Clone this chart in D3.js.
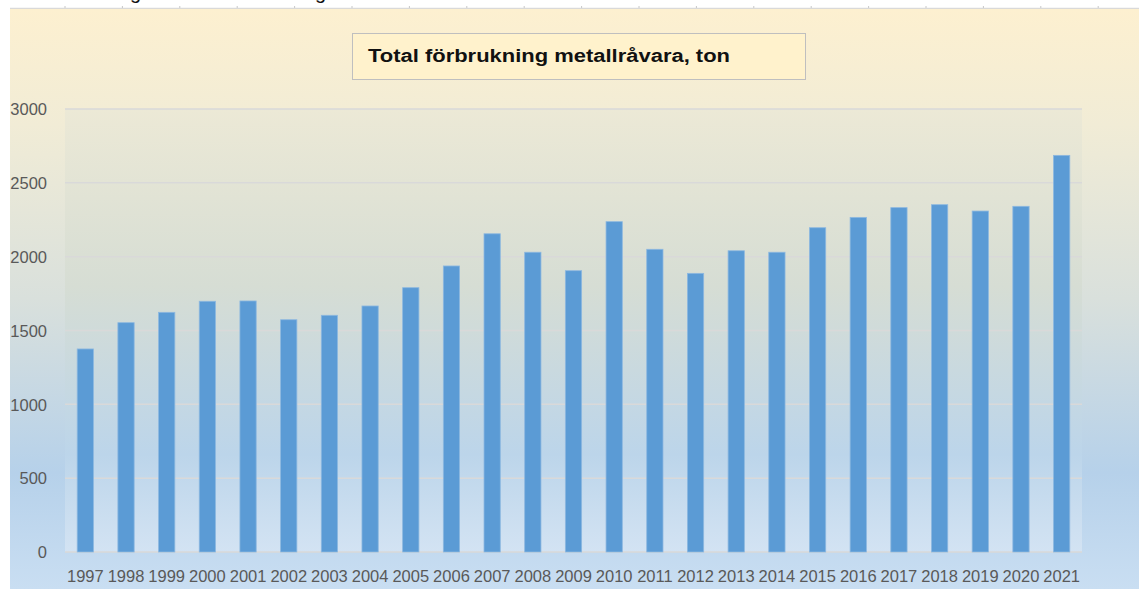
<!DOCTYPE html>
<html lang="sv">
<head>
<meta charset="UTF-8">
<title>Total förbrukning metallråvara</title>
<script src="https://d3js.org/d3.v7.min.js"></script>
<style>
    html, body { margin: 0; padding: 0; background: #fff; }
    svg { display: block; }
    .tick-label { font-family: "Liberation Sans", Arial, sans-serif; font-size: 16.5px; fill: #595959; }
</style>
</head>
<body>
<div id="chart"></div>
<script>
    // data
    const years = ["1997","1998","1999","2000","2001","2002","2003","2004","2005","2006","2007","2008","2009",
                   "2010","2011","2012","2013","2014","2015","2016","2017","2018","2019","2020","2021"];
    const tons = [1375, 1553, 1623, 1698, 1700, 1573, 1603, 1666, 1790, 1937, 2155, 2030, 1905,
                  2237, 2050, 1887, 2040, 2030, 2196, 2266, 2332, 2352, 2309, 2341, 2686];
    const yTicks = [0, 500, 1000, 1500, 2000, 2500, 3000];
    const title = "Total förbrukning metallråvara, ton";

    const W = 1139, H = 589;
    const plot = { left: 65, right: 1082, top: 109, bottom: 552 };

    const svg = d3.select("#chart").append("svg")
        .attr("width", W).attr("height", H);

    const defs = svg.append("defs");

    // outer chart gradient
    const g1 = defs.append("linearGradient").attr("id", "bgOuter")
        .attr("x1", 0).attr("y1", 0).attr("x2", 0).attr("y2", 1);
    g1.append("stop").attr("offset", "0%").attr("stop-color", "#fdf0d0");
    g1.append("stop").attr("offset", "20%").attr("stop-color", "#f1ecd6");
    g1.append("stop").attr("offset", "50%").attr("stop-color", "#d9e0dc");
    g1.append("stop").attr("offset", "80%").attr("stop-color", "#b6d1ea");
    g1.append("stop").attr("offset", "100%").attr("stop-color", "#c9def2");

    // plot area gradient
    const g2 = defs.append("linearGradient").attr("id", "bgPlot")
        .attr("x1", 0).attr("y1", 0).attr("x2", 0).attr("y2", 1);
    g2.append("stop").attr("offset", "0%").attr("stop-color", "#ece9d6");
    g2.append("stop").attr("offset", "40%").attr("stop-color", "#d6ddd4");
    g2.append("stop").attr("offset", "78%").attr("stop-color", "#bcd5ea");
    g2.append("stop").attr("offset", "100%").attr("stop-color", "#d3e3f3");

    // bits of the page above the chart: ruler line and cut-off text
    svg.append("line").attr("x1", 10).attr("x2", W).attr("y1", 8.5).attr("y2", 8.5)
        .attr("stroke", "#d9d9d9").attr("stroke-width", 1.5);
    d3.range(0, 19).forEach(i => {
        const x = 65 + i * 57.4;
        svg.append("line").attr("x1", x).attr("x2", x).attr("y1", 6).attr("y2", 8)
            .attr("stroke", "#c8c8c8").attr("stroke-width", 1);
    });
    [130, 315].forEach(x => {
        svg.append("text").attr("x", x).attr("y", -1)
            .style("font-family", "Liberation Sans, sans-serif").style("font-size", "20px")
            .attr("fill", "#111").text("g");
    });

    svg.append("rect").attr("x", 10).attr("y", 9).attr("width", W - 10).attr("height", H - 9)
        .attr("fill", "url(#bgOuter)");
    svg.append("rect").attr("x", plot.left).attr("y", plot.top)
        .attr("width", plot.right - plot.left).attr("height", plot.bottom - plot.top)
        .attr("fill", "url(#bgPlot)");

    const x = d3.scaleBand().domain(years).range([plot.left, plot.right])
        .paddingInner(0.6).paddingOuter(0.3);
    const y = d3.scaleLinear().domain([0, 3000]).range([plot.bottom, plot.top]);

    // gridlines
    svg.append("g").selectAll("line").data(yTicks).enter().append("line")
        .attr("x1", plot.left).attr("x2", plot.right)
        .attr("y1", d => y(d)).attr("y2", d => y(d))
        .attr("stroke", "#d9d9d9").attr("stroke-width", 1.5);

    // bars
    svg.append("g").selectAll("rect").data(tons).enter().append("rect")
        .attr("x", (d, i) => x(years[i]))
        .attr("width", x.bandwidth())
        .attr("y", d => y(d))
        .attr("height", d => y(0) - y(d))
        .attr("fill", "#5b9bd5")
        .attr("stroke", "#8db8e0").attr("stroke-width", 0.8);

    // y axis labels
    const yAxis = svg.append("g").attr("transform", `translate(${plot.left - 18},0)`)
        .call(d3.axisLeft(y).tickValues(yTicks).tickFormat(d3.format("d")).tickSize(0).tickPadding(0));
    yAxis.select(".domain").remove();
    yAxis.selectAll("text").attr("class", "tick-label").attr("dy", "0.35em");

    // x axis labels
    const xAxis = svg.append("g").attr("transform", `translate(0,${plot.bottom})`)
        .call(d3.axisBottom(x).tickSize(0).tickPadding(18));
    xAxis.select(".domain").remove();
    xAxis.selectAll("text").attr("class", "tick-label");

    // title box
    svg.append("rect").attr("x", 352.5).attr("y", 33.5).attr("width", 453).attr("height", 46)
        .attr("fill", "#fff2cc").attr("stroke", "#bfbfbf").attr("stroke-width", 1);
    svg.append("text").attr("x", 368).attr("y", 62)
        .attr("textLength", 362).attr("lengthAdjust", "spacingAndGlyphs")
        .style("font-family", "Liberation Sans, Arial, sans-serif")
        .style("font-size", "18px").style("font-weight", "bold")
        .attr("fill", "#111").text(title);
</script>
</body>
</html>
